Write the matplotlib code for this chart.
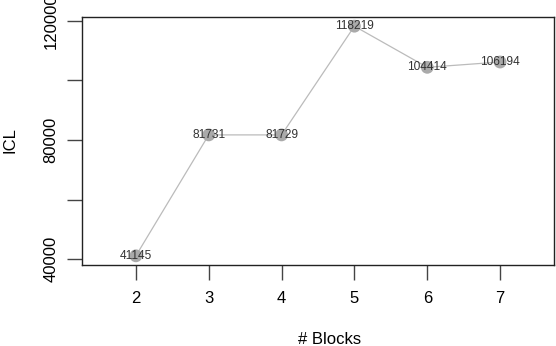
import matplotlib.pyplot as plt

plt.rcParams['font.family'] = ['Liberation Sans', 'DejaVu Sans']

blocks = [2, 3, 4, 5, 6, 7]
icl = [41145, 81731, 81729, 118219, 104414, 106194]
icl_labels = ['41145', '81731', '81729', '118219', '104414', '106194']

fig = plt.figure(figsize=(5.56, 3.46), dpi=100)
ax = fig.add_axes([82 / 556, 81 / 346, 472 / 556, 248 / 346])

ax.plot(blocks, icl, '-', color='#bbbbbb', lw=0.9, zorder=1)
ax.scatter(blocks, icl, s=85, color='#aaaaaa', edgecolors='none', zorder=2)
for x, y, t in zip(blocks, icl, icl_labels):
    ax.text(x, y, t, ha='center', va='center', fontsize=8.6, color='#333333', zorder=3)

ax.set_xlim(1.26, 7.74)
ax.set_ylim(38062, 121302)
ax.set_xticks(blocks)
ax.set_yticks([40000, 60000, 80000, 100000, 120000])
ax.set_yticklabels(['40000', '', '80000', '', '120000'], rotation=90, va='center')
ax.tick_params(axis='both', direction='out', length=11, width=1, color='#444444',
               labelsize=12)
ax.tick_params(axis='x', pad=8)
ax.tick_params(axis='y', pad=6)
for s in ax.spines.values():
    s.set_color('#222222')
    s.set_linewidth(1)

fig.text(10 / 556, 1 - 140 / 346, 'ICL', rotation=90, ha='center', va='center', fontsize=12)
fig.text(330 / 556, 1 - 340 / 346, '# Blocks', ha='center', va='center', fontsize=12)

fig.savefig('out.png', dpi=100)
